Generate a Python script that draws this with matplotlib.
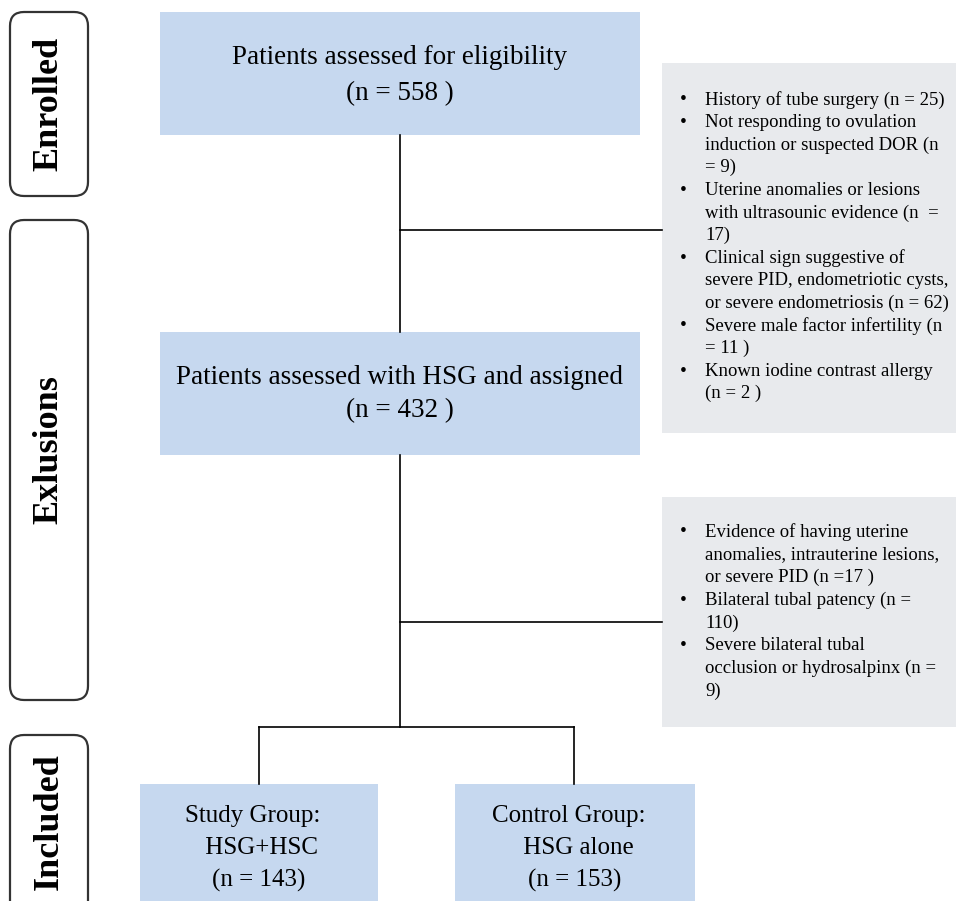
import matplotlib.pyplot as plt
from matplotlib.patches import Rectangle, FancyBboxPatch

# --- content ---
stages = ["Enrolled", "Exlusions", "Included"]
box1_text = ["Patients assessed for eligibility", "(n = 558 )"]
box2_text = ["Patients assessed with HSG and assigned", "(n = 432 )"]
study_text = ["Study Group:  ", " HSG+HSC", "(n = 143)"]
control_text = ["Control Group:  ", " HSG alone", "(n = 153)"]

excl1 = [
    ["History of tube surgery (n = 25)"],
    ["Not responding to ovulation", "induction or suspected DOR (n", "= 9)"],
    ["Uterine anomalies or lesions", "with ultrasounic evidence (n  =", "17)"],
    ["Clinical sign suggestive of", "severe PID, endometriotic cysts,", "or severe endometriosis (n = 62)"],
    ["Severe male factor infertility (n", "= 11 )"],
    ["Known iodine contrast allergy", "(n = 2 )"],
]
excl2 = [
    ["Evidence of having uterine", "anomalies, intrauterine lesions,", "or severe PID (n =17 )"],
    ["Bilateral tubal patency (n =", "110)"],
    ["Severe bilateral tubal", "occlusion or hydrosalpinx (n =", "9)"],
]

BLUE = "#c6d8ef"
GREY = "#e8eaed"
SERIF = ["Liberation Serif", "DejaVu Serif"]

fig = plt.figure(figsize=(9.56, 9.01), dpi=100)
ax = fig.add_axes([0, 0, 1, 1])
ax.set_xlim(0, 956)
ax.set_ylim(901, 0)
ax.axis("off")


def rbox(x0, y0, x1, y1, label, yc=None):
    p = FancyBboxPatch((x0, y0), x1 - x0, y1 - y0,
                       boxstyle="round,pad=0,rounding_size=14",
                       fc="white", ec="#333333", lw=1.6)
    ax.add_patch(p)
    ax.text((x0 + x1) / 2, yc if yc else (y0 + y1) / 2, label, rotation=90,
            ha="center", va="center", fontsize=26, fontweight="bold",
            family=SERIF)


rbox(10, 12, 88, 196, stages[0])
rbox(10, 220, 88, 700, stages[1], 450)
rbox(10, 735, 88, 915, stages[2], 822)


def fbox(x0, y0, x1, y1, color):
    ax.add_patch(Rectangle((x0, y0), x1 - x0, y1 - y0, fc=color, ec="none"))


def lines_centered(xc, ys, texts, size):
    for y, t in zip(ys, texts):
        ax.text(xc, y, t, ha="center", va="center", fontsize=size, family=SERIF)


# main boxes
fbox(160, 12, 640, 135, BLUE)
lines_centered(400, [58, 94], box1_text, 19.5)
fbox(160, 332, 640, 455, BLUE)
lines_centered(400, [378, 411], box2_text, 19.5)
fbox(140, 784, 378, 905, BLUE)
lines_centered(259, [816, 848, 880], study_text, 18)
fbox(455, 784, 695, 905, BLUE)
lines_centered(575, [816, 848, 880], control_text, 18)

# connectors
lk = dict(color="black", lw=1.2)
ax.plot([400, 400], [135, 332], **lk)
ax.plot([400, 662], [230, 230], **lk)
ax.plot([400, 400], [455, 727], **lk)
ax.plot([400, 662], [622, 622], **lk)
ax.plot([259, 574], [727, 727], **lk)
ax.plot([259, 259], [727, 784], **lk)
ax.plot([574, 574], [727, 784], **lk)


def bullet_box(x0, y0, x1, y1, items, ystart, step):
    fbox(x0, y0, x1, y1, GREY)
    y = ystart
    for item in items:
        ax.text(683, y, "\u2022", ha="center", va="center", fontsize=14, family=SERIF)
        for ln in item:
            ax.text(705, y, ln, ha="left", va="center", fontsize=13.5, family=SERIF)
            y += step


bullet_box(662, 63, 956, 433, excl1, 100, 22.6)
bullet_box(662, 497, 956, 727, excl2, 532, 22.8)

fig.savefig("out.png", dpi=100)
